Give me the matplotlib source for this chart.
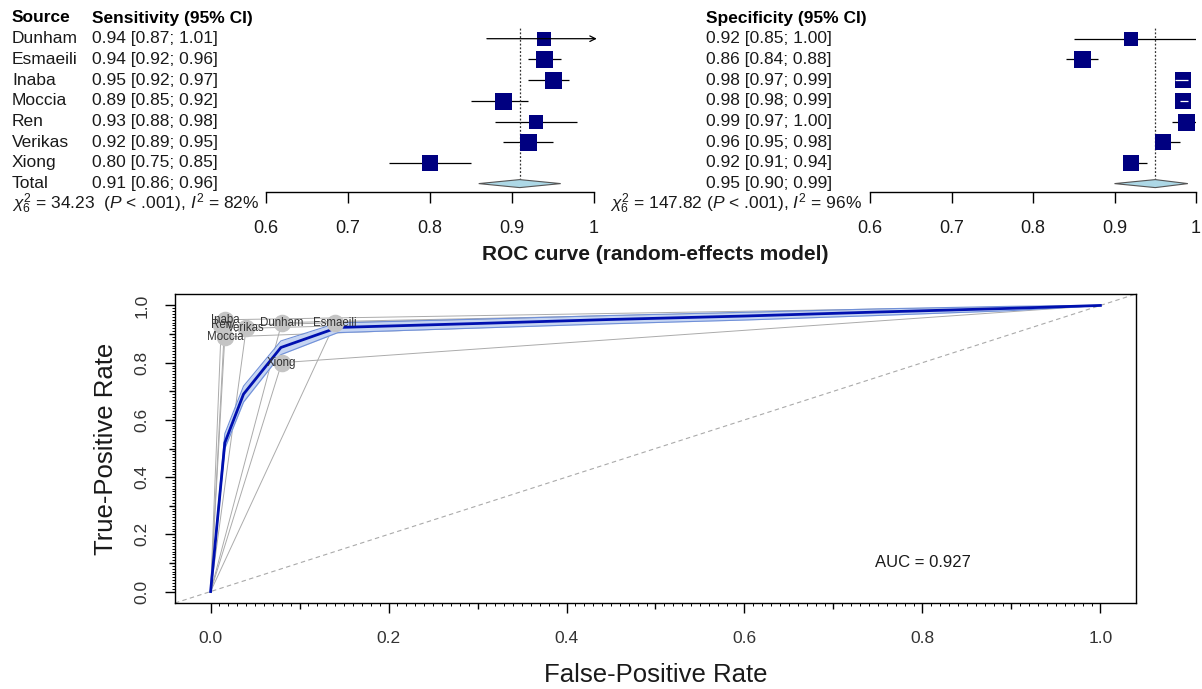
import matplotlib
matplotlib.use("Agg")
import matplotlib.pyplot as plt
import matplotlib.transforms as mtransforms
import numpy as np

plt.rcParams['font.family'] = ['Liberation Sans', 'DejaVu Sans']
plt.rcParams['mathtext.fontset'] = 'custom'
plt.rcParams['mathtext.rm'] = 'Liberation Sans'
plt.rcParams['mathtext.it'] = 'Liberation Sans:italic'

# --- data -------------------------------------------------------------
studies = ["Dunham", "Esmaeili", "Inaba", "Moccia", "Ren", "Verikas", "Xiong"]

sens = [0.94, 0.94, 0.95, 0.89, 0.93, 0.92, 0.80]
sens_lo = [0.87, 0.92, 0.92, 0.85, 0.88, 0.89, 0.75]
sens_hi = [1.01, 0.96, 0.97, 0.92, 0.98, 0.95, 0.85]
sens_w = [11.7, 16.0, 16.0, 16.0, 11.7, 16.0, 12.5]
sens_total = (0.91, 0.86, 0.96)

spec = [0.92, 0.86, 0.984, 0.984, 0.988, 0.96, 0.92]
spec_lo = [0.85, 0.84, 0.974, 0.98, 0.97, 0.95, 0.91]
spec_hi = [1.00, 0.88, 0.99, 0.99, 1.00, 0.98, 0.94]
spec_w = [9.6, 16.4, 14.5, 14.5, 16.4, 14.5, 14.5]
spec_total = (0.95, 0.90, 0.99)

sens_het = r'$\chi^2_6$ = 34.23  ($P$ < .001), $I^2$ = 82%'
spec_het = r'$\chi^2_6$ = 147.82 ($P$ < .001), $I^2$ = 96%'

forest_ticks = [0.6, 0.7, 0.8, 0.9, 1.0]
forest_ticklabels = ["0.6", "0.7", "0.8", "0.9", "1"]

# summary ROC curve and its band
roc_fpr = [0.0, 0.016, 0.037, 0.079, 0.143, 0.30, 0.45, 0.60, 0.75, 0.90, 1.0]
roc_tpr = [0.0, 0.52, 0.69, 0.853, 0.923, 0.937, 0.951, 0.963, 0.977, 0.99, 1.0]
roc_lo = [0.0, 0.50, 0.662, 0.828, 0.905, 0.921, 0.936, 0.949, 0.965, 0.982, 1.0]
roc_hi = [0.0, 0.552, 0.718, 0.876, 0.939, 0.952, 0.965, 0.976, 0.988, 0.997, 1.0]
auc_text = "AUC = 0.927"

# --- layout -----------------------------------------------------------
W, H = 1202, 689
fig = plt.figure(figsize=(W / 100, H / 100), dpi=100)

row0 = 18.0      # pixel y of header row
dy = 20.7        # row spacing in pixels
ax_top, ax_bot = 8.0, 192.0
ylim_f = (-(ax_bot - row0) / dy, -(ax_top - row0) / dy)
FS = 12.5
TXT = "#1a1a1a"


def forest(x0, x1, est, lo, hi, w, total, het, col_x, header, het_x, het_ha):
    ax = fig.add_axes([x0 / W, (H - ax_bot) / H, (x1 - x0) / W, (ax_bot - ax_top) / H])
    ax.set_xlim(0.6, 1.0)
    ax.set_ylim(*ylim_f)
    for s in ["top", "left", "right"]:
        ax.spines[s].set_visible(False)
    ax.spines["bottom"].set_linewidth(1.0)
    ax.set_yticks([])
    ax.set_xticks(forest_ticks)
    ax.set_xticklabels(forest_ticklabels, fontsize=13, color=TXT)
    ax.tick_params(axis="x", length=8, width=1.0, pad=12)
    ppu = (x1 - x0) / 0.4
    wmax = max(w)
    tr = mtransforms.blended_transform_factory(fig.transFigure, ax.transData)

    ax.text(col_x / W, 0, header, transform=tr, fontsize=FS, fontweight="bold",
            ha="left", va="center", color="black")
    for i in range(len(est)):
        y = -(i + 1)
        side = 17.0 * np.sqrt(w[i] / wmax)
        inside = (hi[i] - lo[i]) * ppu <= side + 1
        ax.scatter([est[i]], [y], marker="s", s=(side * 0.72) ** 2, color="#000080",
                   zorder=3, linewidths=0)
        if hi[i] > 1.0:
            ax.annotate("", xy=(1.004, y), xytext=(lo[i], y),
                        arrowprops=dict(arrowstyle="->", lw=0.9, color="black",
                                        shrinkA=0, shrinkB=0), annotation_clip=False)
        else:
            ax.hlines(y, lo[i], hi[i], color="white" if inside else "black",
                      lw=0.9, zorder=4 if inside else 2)
        ax.text(col_x / W, y, f"{est[i]:.2f} [{lo[i]:.2f}; {hi[i]:.2f}]", transform=tr,
                fontsize=FS, ha="left", va="center", color=TXT)
    yt = -(len(est) + 1)
    t, tl, th = total
    hh = 4.0 / dy
    ax.fill([tl, t, th, t], [yt, yt + hh, yt, yt - hh], facecolor="#add8e6",
            edgecolor="#555555", lw=0.8, zorder=3)
    ax.vlines(t, yt + hh, -0.5, color="#333333", lw=0.9, linestyles=(0, (1.5, 1.5)))
    ax.text(col_x / W, yt, f"{t:.2f} [{tl:.2f}; {th:.2f}]", transform=tr,
            fontsize=FS, ha="left", va="center", color=TXT)
    ax.text(het_x / W, yt - 1, het, transform=tr, fontsize=FS, ha=het_ha,
            va="center", color=TXT)
    return ax, tr


axl, trl = forest(265.5, 593.5, sens, sens_lo, sens_hi, sens_w, sens_total, sens_het,
                  92, "Sensitivity (95% CI)", 12, "left")
axl.text(12 / W, 0, "Source", transform=trl, fontsize=FS, fontweight="bold",
         ha="left", va="center", color="black")
for i, name in enumerate(studies):
    axl.text(12 / W, -(i + 1), name, transform=trl, fontsize=FS, ha="left",
             va="center", color=TXT)
axl.text(12 / W, -(len(studies) + 1), "Total", transform=trl, fontsize=FS,
         ha="left", va="center", color=TXT)

axr, trr = forest(870, 1196, spec, spec_lo, spec_hi, spec_w, spec_total, spec_het,
                  706, "Specificity (95% CI)", 862, "right")

# --- ROC plot ---------------------------------------------------------
ax = fig.add_axes([175 / W, (H - 603) / H, (1136 - 175) / W, (603 - 294) / H])
ax.set_xlim(-0.04, 1.04)
ax.set_ylim(-0.04, 1.04)

ax.axline((0, 0), (1, 1), color="#aaaaaa", lw=0.8, ls=(0, (4, 3)), zorder=1)

fpr_pts = [1 - s for s in spec]
for fx, ty in zip(fpr_pts, sens):
    ax.plot([0, fx, 1], [0, ty, 1], color="#ababab", lw=0.7, zorder=2)

ax.fill_between(roc_fpr, roc_lo, roc_hi, color="#c6d5f2", lw=0, zorder=3)
ax.plot(roc_fpr, roc_lo, color="#7090d8", lw=0.8, zorder=4)
ax.plot(roc_fpr, roc_hi, color="#7090d8", lw=0.8, zorder=4)
ax.plot(roc_fpr, roc_tpr, color="#0010b0", lw=2.0, zorder=5)

ax.scatter(fpr_pts, sens, s=160, color="#c4c4c4", linewidths=0, zorder=6)
for name, fx, ty in zip(studies, fpr_pts, sens):
    ax.text(fx, ty, name, fontsize=8.3, color="#333333", ha="center", va="center",
            zorder=7)

ax.text(0.8, 0.1, auc_text, fontsize=12, color=TXT, ha="center", va="center")

tenths = np.round(np.arange(0, 1.001, 0.1), 1)
ax.set_xticks(tenths)
ax.set_yticks(tenths)
ax.set_xticklabels([f"{v:.1f}" if i % 2 == 0 else "" for i, v in enumerate(tenths)])
ax.set_yticklabels([f"{v:.1f}" if i % 2 == 0 else "" for i, v in enumerate(tenths)],
                   rotation=90, va="center")
ax.set_xticks(np.arange(0, 1.001, 0.01), minor=True)
ax.set_yticks(np.arange(0, 1.001, 0.01), minor=True)
ax.tick_params(which="major", length=7.5, width=1.0, labelsize=12.5,
               labelcolor="#333333")
ax.tick_params(axis="x", which="major", pad=13)
ax.tick_params(axis="y", which="major", pad=11)
ax.tick_params(which="minor", length=2.5, width=0.7)
for axis in (ax.xaxis, ax.yaxis):
    for i, tk in enumerate(axis.get_major_ticks()):
        if i % 2 == 1:
            tk.tick1line.set_markersize(4)
for s in ax.spines.values():
    s.set_linewidth(1.0)

ax.set_xlabel("False-Positive Rate", fontsize=18.5, color=TXT, labelpad=12)
ax.set_ylabel("True-Positive Rate", fontsize=18.5, color=TXT, labelpad=12)

fig.text(655.5 / W, (H - 254) / H, "ROC curve (random-effects model)", fontsize=15,
         fontweight="bold", ha="center", va="center", color=TXT)

fig.savefig("out.png", dpi=100)
